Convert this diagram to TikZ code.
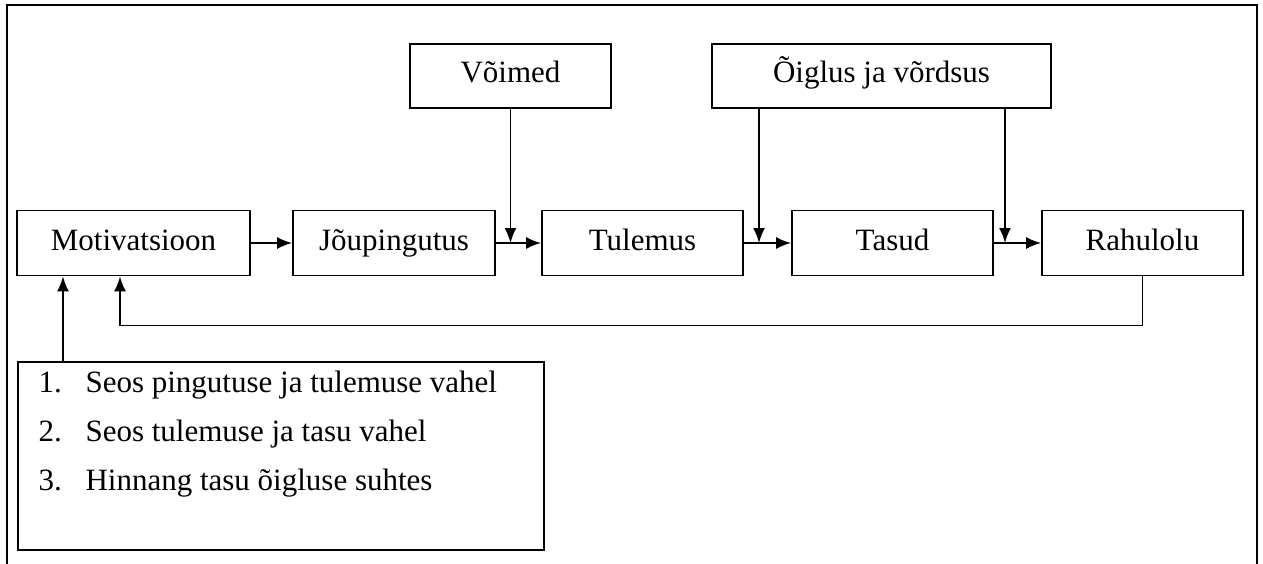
\documentclass[tikz,border=0pt]{standalone}
\usepackage{fontspec}
\setmainfont{Liberation Serif}
\usetikzlibrary{arrows.meta}
\usetikzlibrary{positioning}

\tikzset{kast/.style={draw, line width=1.8pt, inner sep=0pt, minimum height=65,
    text height=22pt, text depth=8pt},
  nool/.style={line width=1.8pt, -{Latex[length=15pt,width=12pt]}},
  joon/.style={line width=1.8pt}}

\begin{document}
\begin{tikzpicture}[x=1pt,y=-1pt, every node/.style={font=\fontsize{31}{49}\selectfont}]
\useasboundingbox (0,0) rectangle (1263,564);
\draw[joon] (7,570) -- (7,5) -- (1257,5) -- (1257,570);

\node[kast, minimum width=233] (motiv) at (133.5,243) {Motivatsioon};
\node[kast, minimum width=202] (joud) at (394,243) {Jõupingutus};
\node[kast, minimum width=201] (tulemus) at (642.5,243) {Tulemus};
\node[kast, minimum width=201] (tasud) at (892.5,243) {Tasud};
\node[kast, minimum width=201] (rahul) at (1142.5,243) {Rahulolu};

\node[kast, minimum width=201, minimum height=64] (voimed) at (510.5,76) {Võimed};
\node[kast, minimum width=339, minimum height=64] (oiglus) at (881.5,76) {Õiglus ja võrdsus};

\draw[nool] (motiv) -- (joud);
\draw[nool] (joud) -- (tulemus);
\draw[nool] (tulemus) -- (tasud);
\draw[nool] (tasud) -- (rahul);

\draw[nool] (voimed.south) -- (voimed.south |- joud.east);
\coordinate (o1) at ([xshift=-122.5]oiglus.south);
\coordinate (o2) at ([xshift=123.5]oiglus.south);
\draw[nool] (o1) -- (o1 |- tulemus.east);
\draw[nool] (o2) -- (o2 |- tasud.east);

% tagasiside
\draw[nool] (rahul.south) -- ++(0,49) -| ([xshift=-13.5]motiv.south);

\node[kast, minimum width=526, minimum height=188, anchor=north west] (tegurid) at (17,361) {};
\node[anchor=base west] (t1) at (35,392) {\makebox[47pt][l]{1.}Seos pingutuse ja tulemuse vahel};
\node[anchor=base west] (t2) at (35,441) {\makebox[47pt][l]{2.}Seos tulemuse ja tasu vahel};
\node[anchor=base west] (t3) at (35,490) {\makebox[47pt][l]{3.}Hinnang tasu õigluse suhtes};

\coordinate (m0) at ([xshift=46]tegurid.north west);
\draw[nool] (m0) -- (m0 |- motiv.south);

\end{tikzpicture}
\end{document}
